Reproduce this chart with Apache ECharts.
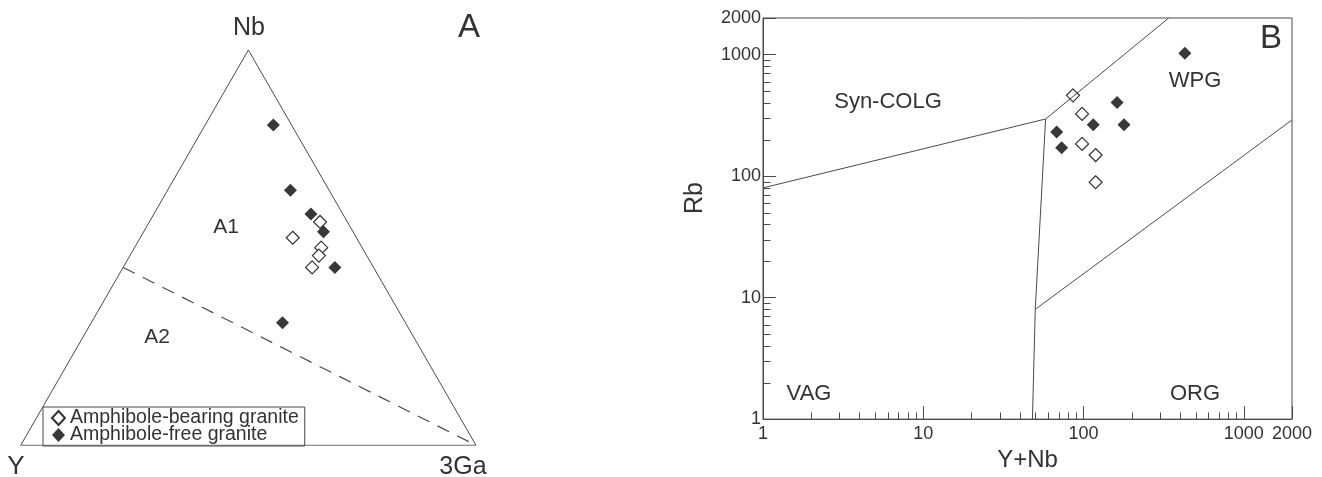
<!DOCTYPE html>
<html>
<head>
<meta charset="utf-8">
<title>Nb-Y-3Ga and Rb vs Y+Nb diagrams</title>
<script src="https://cdn.jsdelivr.net/npm/echarts@6/dist/echarts.min.js"></script>
<style>
  html, body { margin: 0; padding: 0; background: #fff; }
  #chart { width: 1322px; height: 477px; }
</style>
</head>
<body>
<div id="chart"></div>
<script>
// ---- A: Nb - Y - 3Ga ternary, values in percent ----
const bearingNb = [56.5, 52.5, 50, 48, 45]
const bearingGa = [37.5, 33.5, 41, 41.5, 41.5]
const bearingY = [6, 14, 9, 10.5, 13.5]
const freeNb = [81, 64.5, 58.5, 54, 45, 31]
const freeGa = [15, 27, 34.5, 39.5, 46.5, 42]
const freeY = [4, 8.5, 7, 6.5, 8.5, 27]
// outline Y -> 3Ga -> Nb -> Y
const frameNb = [0, 0, 100, 0]
const frameGa = [0, 100, 0, 0]
const frameY = [100, 0, 0, 100]
// A1 / A2 divide
const divideNb = [45, 0]
const divideGa = [0, 100]
const divideY = [55, 0]

// ---- B: Rb vs Y+Nb ----
const bearingYNb = [86, 98, 98, 119, 119]
const bearingRb = [462, 325, 184, 149, 89]
const freeYNb = [429, 162, 115, 179, 68, 73]
const freeRb = [1026, 404, 264, 264, 231, 171]
// field boundaries
const colgX = [1, 58, 340]
const colgY = [80, 295, 2000]
const vagX = [58, 50, 48]
const vagY = [295, 8, 1]
const orgX = [50, 2000]
const orgY = [8, 290]
const minorTicks = [2, 3, 4, 5, 6, 7, 8, 9, 20, 30, 40, 50, 60, 70, 80, 90, 200, 300, 400, 500, 600, 700, 800, 900]

const FONT = "'Liberation Sans', Arial, sans-serif"
const INK = '#333'
const LINE = '#4a4a4a'
const NAME_OPEN = 'Amphibole-bearing granite'
const NAME_FILL = 'Amphibole-free granite'

// ternary -> cartesian (3Ga to the right, Nb at the apex)
function tern(nb, ga, y) {
  const s = nb + ga + y
  return [(ga + nb / 2) / s, (nb / s) * Math.sqrt(3) / 2]
}
function ternList(nb, ga, y) {
  return nb.map((v, i) => tern(v, ga[i], y[i]))
}
function pairs(xs, ys) {
  return xs.map((v, i) => [v, ys[i]])
}

function label(text, x, y, size, rot) {
  return {
    type: 'text', x: x, y: y, rotation: rot || 0, silent: true,
    style: { text: text, fontSize: size, fontFamily: FONT, fill: INK, align: 'center', verticalAlign: 'middle' }
  }
}

function minorTick(horizontal) {
  return function (params, api) {
    const p = api.coord([api.value(0), api.value(1)])
    const x = Math.round(p[0]) + 0.5
    const y = Math.round(p[1]) + 0.5
    return {
      type: 'line',
      shape: horizontal ? { x1: x, y1: y, x2: x + 7, y2: y } : { x1: x, y1: y, x2: x, y2: y - 7 },
      style: { stroke: LINE, lineWidth: 1 }
    }
  }
}

const openStyle = { color: '#fff', borderColor: '#333', borderWidth: 1.2, opacity: 1 }
const fillStyle = { color: '#383838', opacity: 1 }

const logAxis = {
  type: 'log',
  logBase: 10,
  min: 1,
  max: 2000,
  gridIndex: 1,
  axisLine: { lineStyle: { color: LINE, width: 1 } },
  axisTick: { inside: true, length: 13, lineStyle: { color: LINE } },
  splitLine: { show: false },
  minorTick: { show: false },
  axisLabel: {
    color: INK, fontSize: 18, fontFamily: FONT, showMinLabel: true, showMaxLabel: true,
    formatter: v => String(Math.round(v))
  }
}

const chart = echarts.init(document.getElementById('chart'))
chart.setOption({
  animation: false,
  grid: [
    { left: 20.7, top: 50, width: 455.3, height: 395.3 },
    { left: 763, top: 18, width: 529, height: 413, show: true, borderColor: LINE, borderWidth: 1 }
  ],
  xAxis: [
    { gridIndex: 0, type: 'value', min: 0, max: 1, show: false },
    Object.assign({}, logAxis, {
      name: 'Y+Nb',
      nameLocation: 'middle',
      nameGap: 22,
      nameTextStyle: { color: INK, fontSize: 24, fontFamily: FONT },
      axisLabel: Object.assign({}, logAxis.axisLabel, { margin: 6 })
    })
  ],
  yAxis: [
    { gridIndex: 0, type: 'value', min: 0, max: Math.sqrt(3) / 2, show: false },
    Object.assign({}, logAxis, { axisLabel: Object.assign({}, logAxis.axisLabel, { margin: 2 }) })
  ],
  legend: {
    orient: 'vertical',
    left: 43,
    top: 407,
    padding: [1, 6, 1, 8],
    itemGap: -3,
    itemWidth: 13,
    itemHeight: 14,
    borderColor: LINE,
    borderWidth: 1,
    selectedMode: false,
    icon: 'diamond',
    textStyle: { color: INK, fontSize: 19.5, fontFamily: FONT },
    data: [NAME_OPEN, NAME_FILL]
  },
  graphic: [
    label('Nb', 249, 28, 25),
    label('Y', 16, 467, 26),
    label('3Ga', 463, 467, 25),
    label('A', 469, 28, 33),
    label('A1', 226, 227, 21),
    label('A2', 157, 337, 21),
    label('B', 1271, 39, 33),
    label('Syn-COLG', 888, 102, 22),
    label('WPG', 1195, 81, 22),
    label('VAG', 809, 394, 22),
    label('ORG', 1195, 394, 22),
    label('Rb', 695, 198, 25, Math.PI / 2)
  ],
  series: [
    // ---- ternary ----
    {
      type: 'line', xAxisIndex: 0, yAxisIndex: 0, silent: true, symbol: 'none',
      data: ternList(frameNb, frameGa, frameY),
      lineStyle: { color: LINE, width: 1 }
    },
    {
      type: 'line', xAxisIndex: 0, yAxisIndex: 0, silent: true, symbol: 'none',
      data: ternList(divideNb, divideGa, divideY),
      lineStyle: { color: LINE, width: 1.2, type: [13, 9] }
    },
    {
      name: NAME_OPEN, type: 'scatter', xAxisIndex: 0, yAxisIndex: 0,
      symbol: 'diamond', symbolSize: 13, itemStyle: openStyle,
      data: ternList(bearingNb, bearingGa, bearingY)
    },
    {
      name: NAME_FILL, type: 'scatter', xAxisIndex: 0, yAxisIndex: 0,
      symbol: 'diamond', symbolSize: 13, itemStyle: fillStyle,
      data: ternList(freeNb, freeGa, freeY)
    },
    // ---- Rb vs Y+Nb ----
    {
      type: 'custom', xAxisIndex: 1, yAxisIndex: 1, silent: true,
      data: minorTicks.map(v => [v, 1]), renderItem: minorTick(false)
    },
    {
      type: 'custom', xAxisIndex: 1, yAxisIndex: 1, silent: true,
      data: minorTicks.map(v => [1, v]), renderItem: minorTick(true)
    },
    {
      type: 'line', xAxisIndex: 1, yAxisIndex: 1, silent: true, symbol: 'none',
      data: pairs(colgX, colgY), lineStyle: { color: LINE, width: 1 }
    },
    {
      type: 'line', xAxisIndex: 1, yAxisIndex: 1, silent: true, symbol: 'none',
      data: pairs(vagX, vagY), lineStyle: { color: LINE, width: 1 }
    },
    {
      type: 'line', xAxisIndex: 1, yAxisIndex: 1, silent: true, symbol: 'none',
      data: pairs(orgX, orgY), lineStyle: { color: LINE, width: 1 }
    },
    {
      name: NAME_OPEN, type: 'scatter', xAxisIndex: 1, yAxisIndex: 1,
      symbol: 'diamond', symbolSize: 13, itemStyle: openStyle,
      data: pairs(bearingYNb, bearingRb)
    },
    {
      name: NAME_FILL, type: 'scatter', xAxisIndex: 1, yAxisIndex: 1,
      symbol: 'diamond', symbolSize: 13, itemStyle: fillStyle,
      data: pairs(freeYNb, freeRb)
    }
  ]
})
</script>
</body>
</html>
